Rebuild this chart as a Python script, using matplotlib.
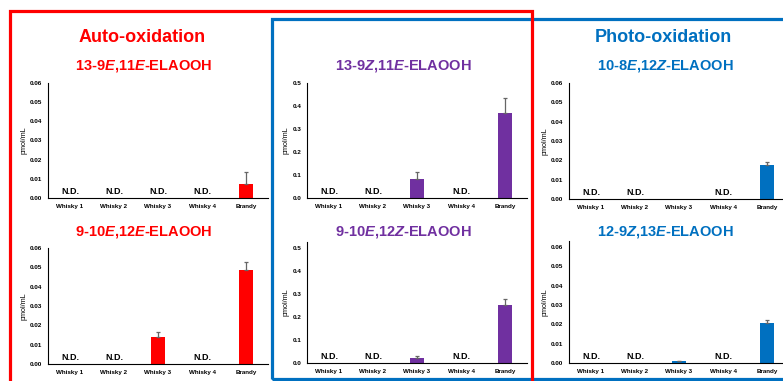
import numpy as np
import matplotlib as mpl
mpl.use('Agg')
import matplotlib.pyplot as plt
from matplotlib.patches import Rectangle

plt.rcParams['font.family'] = ['Liberation Sans', 'DejaVu Sans']
plt.rcParams['mathtext.fontset'] = 'custom'
plt.rcParams['mathtext.bfit'] = 'Liberation Sans:bold:italic'
plt.rcParams['mathtext.it'] = 'Liberation Sans:italic'
plt.rcParams['mathtext.rm'] = 'Liberation Sans'

samples = ['Whisky 1', 'Whisky 2', 'Whisky 3', 'Whisky 4', 'Brandy']

# values in pmol/mL, None = N.D.
auto_13_9E11E = [None, None, None, None, 0.0072]
auto_13_9E11E_err = [0, 0, 0, 0, 0.0063]
auto_9_10E12E = [None, None, 0.0138, None, 0.0487]
auto_9_10E12E_err = [0, 0, 0.0030, 0, 0.0040]

mix_13_9Z11E = [None, None, 0.083, None, 0.370]
mix_13_9Z11E_err = [0, 0, 0.030, 0, 0.065]
mix_9_10E12Z = [None, None, 0.022, None, 0.251]
mix_9_10E12Z_err = [0, 0, 0.007, 0, 0.025]

photo_10_8E12Z = [None, None, 0.0001, None, 0.0176]
photo_10_8E12Z_err = [0, 0, 0.0, 0, 0.0014]
photo_12_9Z13E = [None, None, 0.0008, None, 0.0207]
photo_12_9Z13E_err = [0, 0, 0.0003, 0, 0.0017]

RED = '#FF0000'
PURPLE = '#7030A0'
BLUE = '#0070C0'

W, H = 783, 381
fig = plt.figure(figsize=(W / 100, H / 100), dpi=100)


def px_axes(l, t, r, b):
    return fig.add_axes([l / W, 1 - b / H, (r - l) / W, (b - t) / H])


def panel(l, t, r, b, vals, errs, color, ymax, yticks, fmt, title, title_y):
    ax = px_axes(l, t, r, b)
    x = np.arange(len(samples))
    for i, (v, e) in enumerate(zip(vals, errs)):
        if v is None:
            ax.annotate('N.D.', (i, 0), xytext=(0, 1.5), textcoords='offset points',
                        ha='center', va='bottom', fontsize=6.5, fontweight='bold')
        else:
            ax.bar(i, v, width=0.32, color=color, zorder=2)
            if e > 0:
                ax.errorbar(i, v, yerr=[[0], [e]], fmt='none', ecolor='#666666',
                            elinewidth=0.9, capsize=1.5, capthick=0.9, zorder=3)
    ax.set_xlim(-0.5, 4.5)
    ax.set_ylim(0, ymax)
    ax.set_xticks(x)
    ax.set_xticklabels(samples, fontsize=4.5, fontweight='bold')
    ax.set_yticks(yticks)
    ax.set_yticklabels([fmt % v for v in yticks], fontsize=4.6, fontweight='bold')
    ax.tick_params(length=0, pad=4)
    for s in ['top', 'right']:
        ax.spines[s].set_visible(False)
    for s in ['left', 'bottom']:
        ax.spines[s].set_linewidth(0.8)
    ax.set_ylabel('pmol/mL', fontsize=5.2, labelpad=2)
    # subtitle, centred a little left of the axes centre
    fig.text((l + 96) / W, 1 - title_y / H, title,
             color=color, fontsize=10.5, fontweight='bold', ha='center', va='center')
    return ax


y06 = [0, 0.01, 0.02, 0.03, 0.04, 0.05, 0.06]
y05 = [0, 0.1, 0.2, 0.3, 0.4, 0.5]

panel(48, 83, 268, 198, auto_13_9E11E, auto_13_9E11E_err, RED, 0.06, y06, '%.2f',
      r'13-9$\mathbfit{E}$,11$\mathbfit{E}$-ELAOOH', 66)
panel(48, 248, 268, 364, auto_9_10E12E, auto_9_10E12E_err, RED, 0.06, y06, '%.2f',
      r'9-10$\mathbfit{E}$,12$\mathbfit{E}$-ELAOOH', 232)
panel(307, 83, 527, 198, mix_13_9Z11E, mix_13_9Z11E_err, PURPLE, 0.5, y05, '%.1f',
      r'13-9$\mathbfit{Z}$,11$\mathbfit{E}$-ELAOOH', 66)
panel(307, 242, 527, 363, mix_9_10E12Z, mix_9_10E12Z_err, PURPLE, 0.525, y05, '%.1f',
      r'9-10$\mathbfit{E}$,12$\mathbfit{Z}$-ELAOOH', 232)
panel(569, 83, 789, 199, photo_10_8E12Z, photo_10_8E12Z_err, BLUE, 0.06, y06, '%.2f',
      r'10-8$\mathbfit{E}$,12$\mathbfit{Z}$-ELAOOH', 66)
panel(569, 241, 789, 363, photo_12_9Z13E, photo_12_9Z13E_err, BLUE, 0.063, y06, '%.2f',
      r'12-9$\mathbfit{Z}$,13$\mathbfit{E}$-ELAOOH', 232)

fig.text(142 / W, 1 - 38 / H, 'Auto-oxidation', color=RED, fontsize=13,
         fontweight='bold', ha='center', va='center')
fig.text(663 / W, 1 - 38 / H, 'Photo-oxidation', color=BLUE, fontsize=13,
         fontweight='bold', ha='center', va='center')

# group frames
fig.patches.append(Rectangle((272 / W, 1 - 379 / H), 530 / W, 360 / H, fill=False,
                             edgecolor=BLUE, linewidth=2.3, transform=fig.transFigure,
                             figure=fig, zorder=5))
fig.patches.append(Rectangle((10 / W, 1 - 390 / H), 522 / W, 379 / H, fill=False,
                             edgecolor=RED, linewidth=2.3, transform=fig.transFigure,
                             figure=fig, zorder=6))

fig.savefig('out.png', dpi=100)
